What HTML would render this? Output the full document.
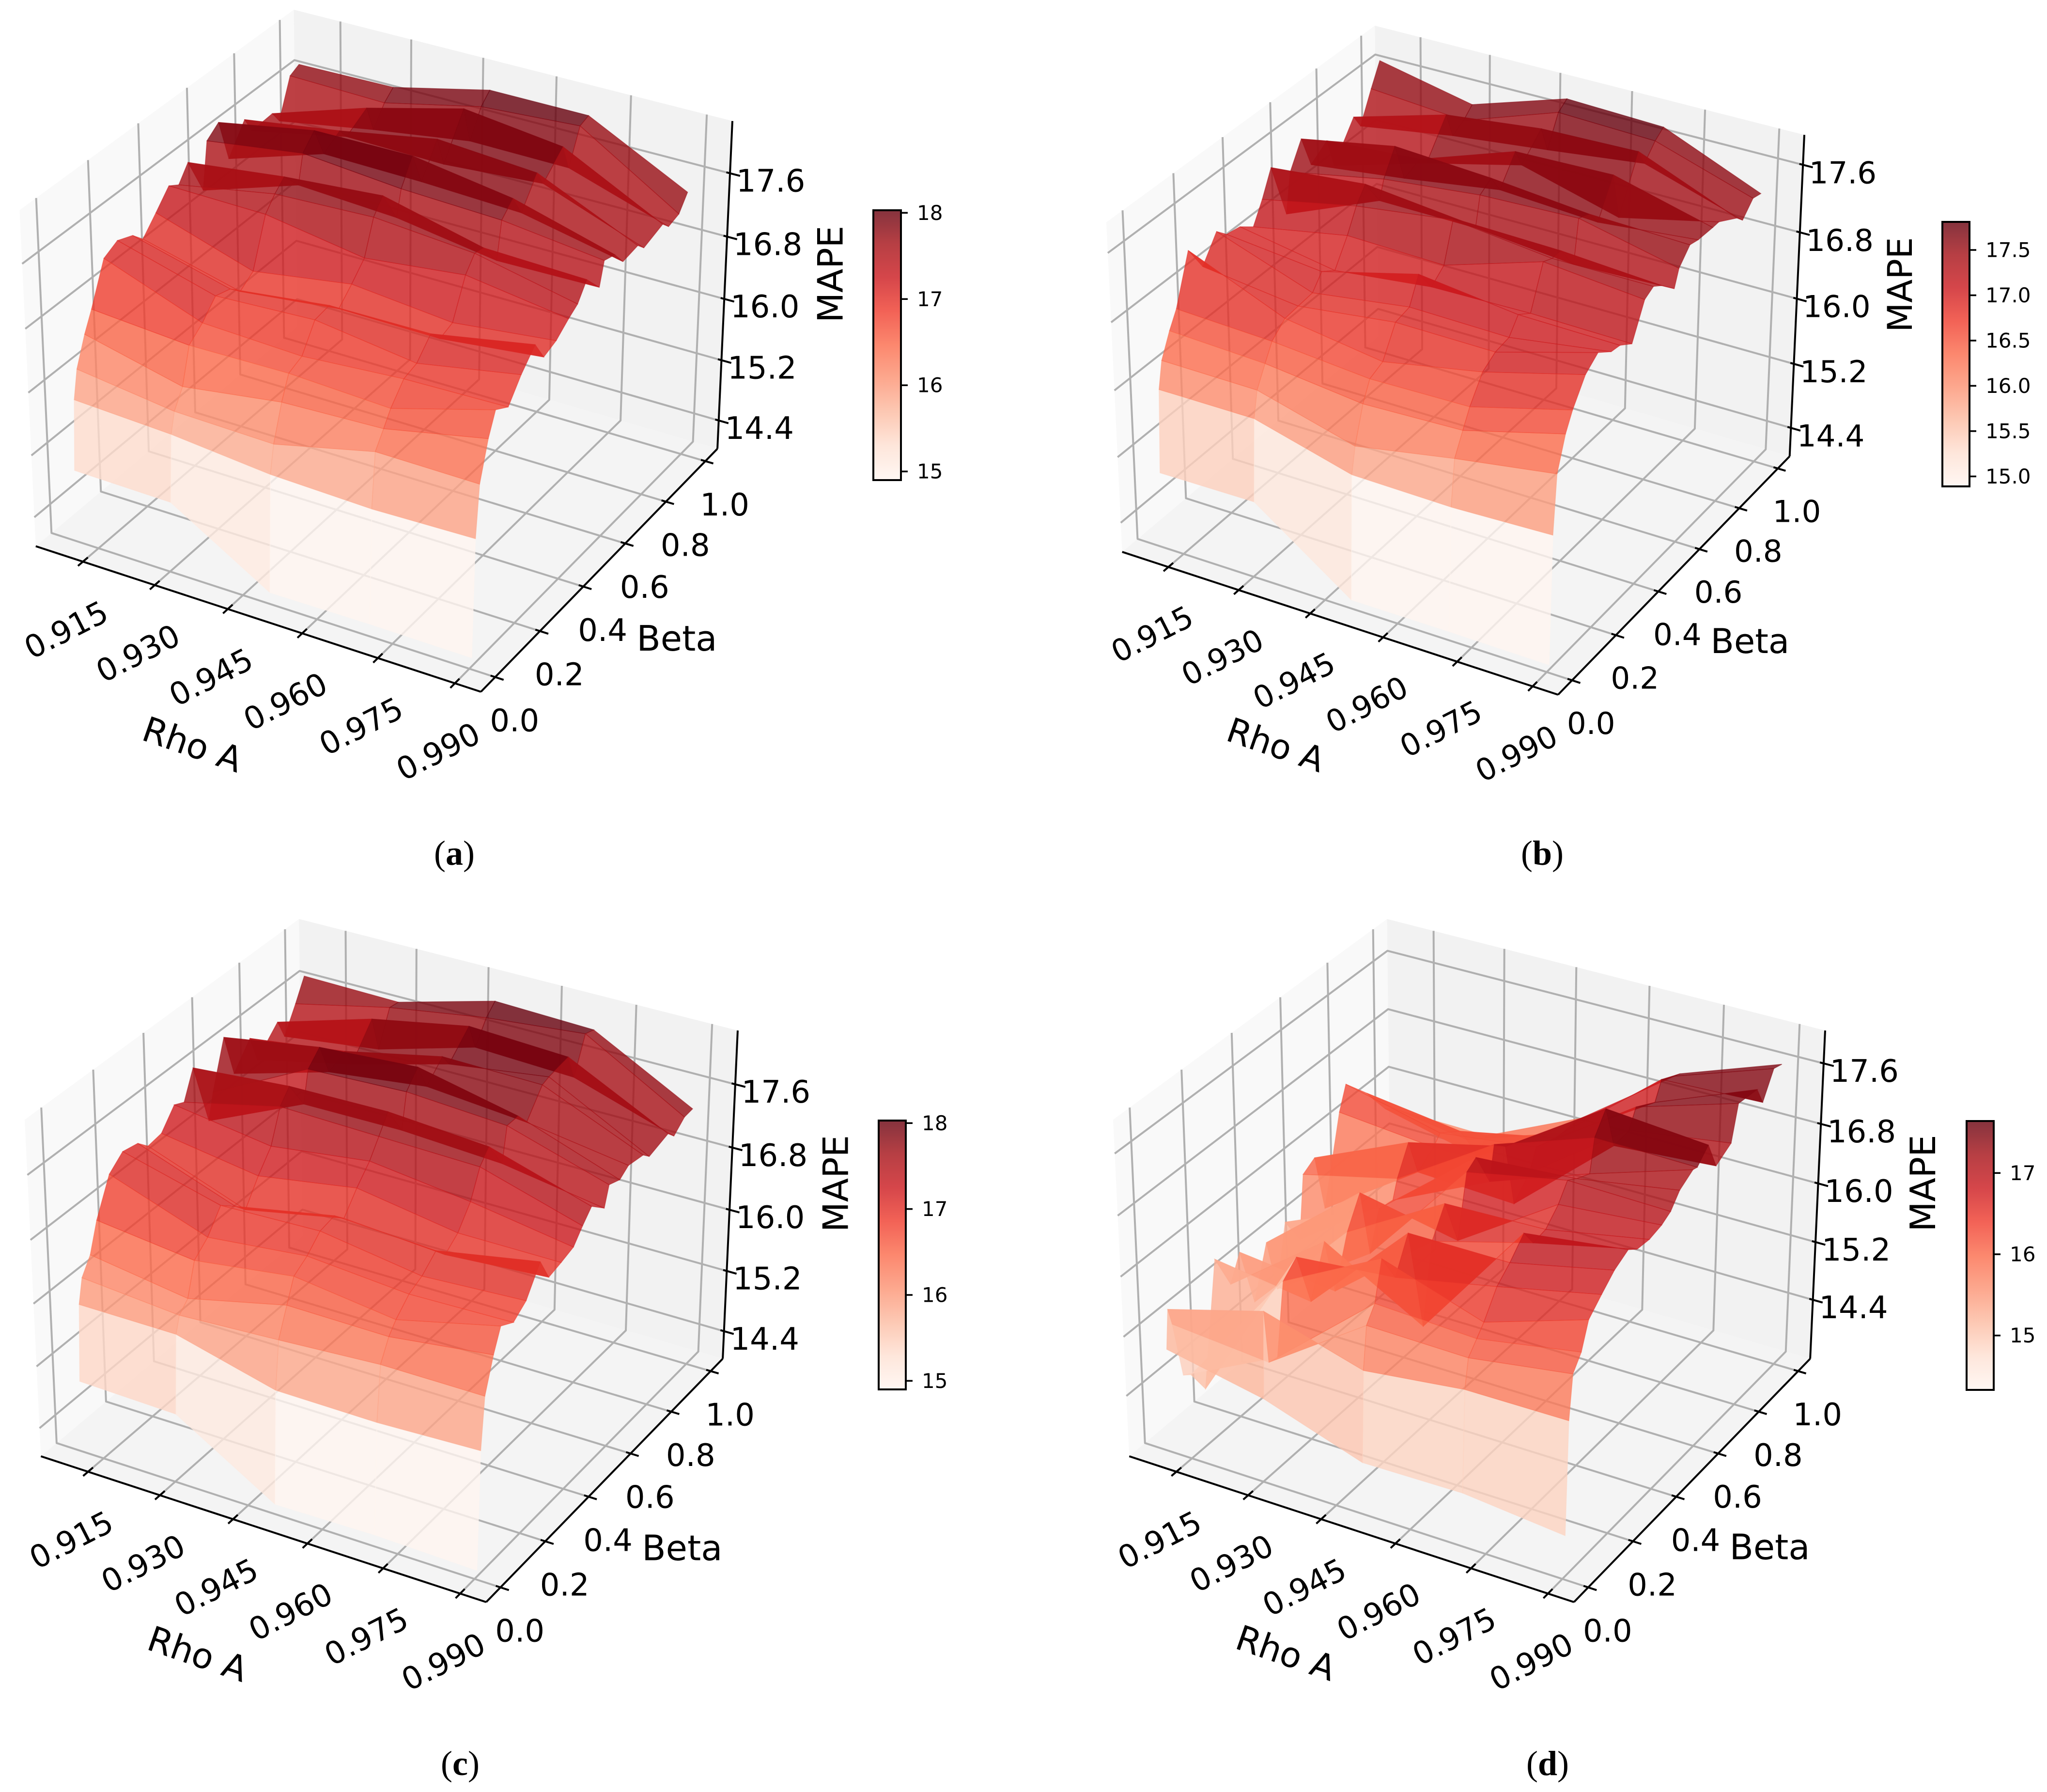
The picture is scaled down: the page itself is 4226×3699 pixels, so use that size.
<!DOCTYPE html>
<html>
<head>
<meta charset="utf-8">
<title>MAPE surfaces over Rho A and Beta</title>
<style>
html,body{margin:0;padding:0;background:#fff;}
svg{display:block;}
text{font-family:"DejaVu Sans","Liberation Sans",sans-serif;fill:#000;}
.cap{font-family:"Liberation Serif",serif;font-size:72px;}
</style>
</head>
<body>
<svg id="figure" xmlns="http://www.w3.org/2000/svg" width="4226" height="3699" viewBox="0 0 4226 3699">
<defs>
<linearGradient id="redsAlpha" x1="0" y1="1" x2="0" y2="0">
<stop offset="0" stop-color="#fff5f0" stop-opacity="0.8"/>
<stop offset="0.125" stop-color="#fee0d2" stop-opacity="0.8"/>
<stop offset="0.25" stop-color="#fcbba1" stop-opacity="0.8"/>
<stop offset="0.375" stop-color="#fc9272" stop-opacity="0.8"/>
<stop offset="0.5" stop-color="#fb6a4a" stop-opacity="0.8"/>
<stop offset="0.625" stop-color="#ef3b2c" stop-opacity="0.8"/>
<stop offset="0.75" stop-color="#cb181d" stop-opacity="0.8"/>
<stop offset="0.875" stop-color="#a50f15" stop-opacity="0.8"/>
<stop offset="1" stop-color="#67000d" stop-opacity="0.8"/>
</linearGradient>
</defs>
<rect width="4226" height="3699" fill="#fff"/>
<text class="cap" x="938" y="1785" text-anchor="middle">(<tspan font-weight="bold">a</tspan>)</text>
<text class="cap" x="3184" y="1785" text-anchor="middle">(<tspan font-weight="bold">b</tspan>)</text>
<text class="cap" x="950" y="3664" text-anchor="middle">(<tspan font-weight="bold">c</tspan>)</text>
<text class="cap" x="3195" y="3664" text-anchor="middle">(<tspan font-weight="bold">d</tspan>)</text>
</svg>
<script>
// ---------- chart data ----------
const rhoValues = [0.91, 0.93, 0.95, 0.97, 0.99];
const betaValues = [0.01,0.02,0.035,0.07,0.10,0.155,0.21,0.27,0.31,0.365,0.42,0.46,0.50,0.56,0.58,0.63,0.67,0.74,0.77,0.86,0.89,0.94,0.98];
const rhoTicks = [0.915,0.930,0.945,0.960,0.975,0.990];
const rhoTickLabels = ["0.915","0.930","0.945","0.960","0.975","0.990"];
const betaTicks = [0,0.2,0.4,0.6,0.8,1.0];
const betaTickLabels = ["0.0","0.2","0.4","0.6","0.8","1.0"];
const mapeTicks = [14.4,15.2,16.0,16.8,17.6];
const mapeTickLabels = ["14.4","15.2","16.0","16.8","17.6"];
const cbTicksA = [15,16,17,18];
const cbLabelsA = ["15","16","17","18"];
const cbTicksB = [15,15.5,16,16.5,17,17.5];
const cbLabelsB = ["15.0","15.5","16.0","16.5","17.0","17.5"];
const cbTicksC = [15,16,17,18];
const cbLabelsC = ["15","16","17","18"];
const cbTicksD = [15,16,17];
const cbLabelsD = ["15","16","17"];
const mapeA = [
[14.91,14.89,14.13,14.14,14.13],
[15.79,15.73,15.61,15.57,15.60],
[16.14,15.98,15.95,16.24,16.23],
[16.49,16.20,16.38,16.43,16.69],
[16.73,16.64,16.66,16.60,16.96],
[17.23,16.78,16.73,16.82,16.85],
[17.32,16.98,17.04,16.87,17.10],
[17.24,16.92,17.07,17.08,17.31],
[17.10,16.79,16.93,16.92,17.06],
[17.30,16.91,17.10,16.98,17.12],
[17.51,17.49,17.29,17.43,17.25],
[17.43,17.65,17.70,17.60,17.33],
[17.62,17.77,17.87,17.57,17.53],
[17.13,17.53,17.46,17.27,17.29],
[17.71,17.88,17.77,17.72,17.57],
[17.83,18.05,18.06,17.87,17.52],
[17.28,17.67,17.65,17.60,17.34],
[17.62,17.80,18.02,17.93,17.37],
[17.41,17.66,17.64,17.73,17.27],
[17.43,17.82,18.13,17.98,17.35],
[17.27,17.48,17.66,17.65,17.25],
[17.74,17.71,17.98,18.06,17.29],
[17.80,17.82,18.10,18.10,17.47]];
const mapeB = [
[14.92,14.93,14.11,14.11,14.10],
[15.90,15.90,15.59,15.57,15.61],
[16.21,16.20,15.89,16.10,16.28],
[16.48,16.43,16.30,16.34,16.65],
[16.67,16.62,16.52,16.54,16.85],
[17.23,16.76,16.59,16.81,17.12],
[16.92,16.78,16.92,16.91,17.24],
[17.20,16.80,16.96,16.94,17.11],
[17.08,16.96,17.25,17.11,17.09],
[17.05,16.85,16.98,17.00,16.98],
[16.93,17.14,17.11,17.47,17.36],
[17.17,17.40,17.55,17.42,17.42],
[17.46,17.57,17.45,17.42,17.34],
[16.78,17.25,17.24,17.13,17.17],
[17.24,17.46,17.58,17.62,17.36],
[17.53,17.74,17.67,17.56,17.52],
[17.14,17.28,17.45,17.38,17.49],
[17.28,17.36,17.75,17.78,17.48],
[16.92,17.25,17.53,17.22,17.48],
[17.32,17.64,17.77,17.80,17.33],
[17.15,17.33,17.46,17.60,17.24],
[17.50,17.41,17.80,17.76,17.39],
[17.76,17.52,17.88,17.84,17.36]];
const mapeC = [
[14.91,14.88,14.12,14.14,14.11],
[15.87,15.87,15.55,15.54,15.59],
[16.17,16.07,16.14,16.22,16.22],
[16.37,16.19,16.48,16.47,16.63],
[16.73,16.59,16.76,16.60,16.90],
[17.17,16.74,16.87,16.77,16.80],
[17.32,17.00,17.04,16.85,16.92],
[17.28,16.84,17.08,17.01,17.24],
[17.15,16.70,16.95,16.86,16.95],
[17.18,16.99,17.19,16.99,16.99],
[17.41,17.23,17.39,17.24,17.04],
[17.35,17.63,17.60,17.57,17.20],
[17.69,17.79,17.81,17.72,17.34],
[16.88,17.43,17.44,17.37,17.17],
[17.20,17.82,17.87,17.79,17.41],
[17.78,17.98,18.06,17.79,17.35],
[17.23,17.58,17.73,17.62,17.43],
[17.52,17.68,17.94,17.92,17.39],
[17.18,17.45,17.78,17.95,17.30],
[17.46,17.82,18.05,17.99,17.37],
[17.21,17.37,17.72,17.67,17.27],
[17.52,17.79,17.98,18.10,17.39],
[17.79,17.77,18.10,18.06,17.40]];
const mapeD = [
[14.93,14.67,14.23,14.25,14.12],
[15.44,15.81,15.43,15.59,15.60],
[15.20,15.09,15.98,15.96,16.16],
[14.41,15.06,16.17,16.11,16.34],
[14.33,15.99,16.67,16.24,16.67],
[13.98,16.16,16.28,16.55,16.84],
[15.60,15.42,16.71,16.71,17.00],
[15.10,16.06,15.32,16.93,17.10],
[15.43,15.29,16.34,16.70,17.00],
[14.60,15.94,16.69,16.73,16.98],
[15.27,16.32,16.06,16.91,17.02],
[14.52,15.40,16.86,17.12,17.09],
[15.34,15.90,16.95,17.04,17.26],
[14.94,15.86,16.48,16.95,17.37],
[15.79,16.10,16.92,17.37,17.35],
[15.89,16.46,16.77,17.62,17.51],
[15.09,15.96,15.90,17.04,17.14],
[16.24,16.12,16.14,17.07,17.26],
[16.55,16.24,16.41,17.30,17.70],
[16.21,16.04,16.31,17.14,17.66],
[16.05,15.85,16.30,17.37,17.42],
[15.80,15.49,16.30,17.29,17.74],
[15.70,15.68,16.28,17.23,17.70]];

// ---------- layout / axis config ----------
const xLim = [0.905, 0.995];
const yLim = [-0.0625, 1.0625];
const panels = [
 {key:'a', mape:mapeA, Fx:40.4, Dx:1512, Ey:20, By:1428, zLim:[14.02,18.25], vMin:14.90, vMax:18.03,
  cbX0:1803, cbX1:1860, cbY0:434, cbY1:991, cbTicks:cbTicksA, cbLabels:cbLabelsA},
 {key:'b', mape:mapeB, Fx:2284, Dx:3725, Ey:53, By:1434, zLim:[14.04,17.95], vMin:14.89, vMax:17.81,
  cbX0:4010, cbX1:4066, cbY0:458, cbY1:1004, cbTicks:cbTicksB, cbLabels:cbLabelsB},
 {key:'c', mape:mapeC, Fx:51, Dx:1523, Ey:1897, By:3307, zLim:[14.03,18.27], vMin:14.90, vMax:18.03,
  cbX0:1814, cbX1:1870, cbY0:2313, cbY1:2868, cbTicks:cbTicksC, cbLabels:cbLabelsC},
 {key:'d', mape:mapeD, Fx:2298, Dx:3768, Ey:1897, By:3307, zLim:[13.57,18.03], vMin:14.33, vMax:17.64,
  cbX0:4060, cbX1:4116, cbY0:2314, cbY1:2869, cbTicks:cbTicksD, cbLabels:cbLabelsD}
];

const BOX_XY = 1.19049, BOX_Z = 0.89286, DIST = 10;
const NX = 0.4330127, NY = -0.75, NZ = 0.5;
const redsStops = [[255,245,240],[254,224,210],[252,187,161],[252,146,114],[251,106,74],[239,59,44],[203,24,29],[165,15,21],[103,0,13]];

function reds(t){
  t = Math.max(0, Math.min(1, t));
  const p = t * 8, i = Math.min(7, Math.floor(p)), f = p - i;
  const a = redsStops[i], b = redsStops[i + 1];
  return 'rgb(' + [0,1,2].map(k => Math.round(a[k] + (b[k] - a[k]) * f)).join(',') + ')';
}
function projUnit(tx, ty, tz){
  const X = (tx - 0.5) * BOX_XY, Y = (ty - 0.5) * BOX_XY, Z = (tz - 0.5) * BOX_Z;
  const d = DIST - (NX * X + NY * Y + NZ * Z);
  return {px:(0.8660254 * X + 0.5 * Y) / d, py:(-0.25 * X + 0.4330127 * Y + 0.8660254 * Z) / d, d:d};
}
const root = document.getElementById('figure');
function mk(tag, attrs, parent){
  const e = document.createElementNS('http://www.w3.org/2000/svg', tag);
  for (const k in attrs) e.setAttribute(k, attrs[k]);
  parent.appendChild(e);
  return e;
}

function drawPanel(cfg){
  const pF = projUnit(0,0,1), pD = projUnit(1,1,1), pE = projUnit(0,1,1), pB = projUnit(1,0,0);
  const a = (cfg.Dx - cfg.Fx) / (pD.px - pF.px);
  const c = (cfg.By - cfg.Ey) / (pE.py - pB.py);
  const ox = cfg.Fx - a * pF.px, oy = cfg.Ey + c * pE.py;
  const scale = a / 8844;
  const tx = v => (v - xLim[0]) / (xLim[1] - xLim[0]);
  const ty = v => (v - yLim[0]) / (yLim[1] - yLim[0]);
  const tz = v => (v - cfg.zLim[0]) / (cfg.zLim[1] - cfg.zLim[0]);
  const scr = (ux, uy, uz) => { const p = projUnit(ux, uy, uz); return [ox + a * p.px, oy - c * p.py, p.d]; };
  const pts = list => list.map(q => { const s = scr(q[0], q[1], q[2]); return s[0].toFixed(1) + ',' + s[1].toFixed(1); }).join(' ');
  const line = (g, u, v, col, w) => { const s = scr(u[0],u[1],u[2]), e = scr(v[0],v[1],v[2]);
    return mk('line', {x1:s[0].toFixed(1), y1:s[1].toFixed(1), x2:e[0].toFixed(1), y2:e[1].toFixed(1), stroke:col, 'stroke-width':w}, g); };
  const poly3 = (g, list, col, w) => mk('polyline', {points:pts(list), fill:'none', stroke:col, 'stroke-width':w, 'stroke-linejoin':'round'}, g);

  const g = mk('g', {}, root);
  
  

  // panes
  const paneL = mk('polygon', {points:pts([[0,0,0],[0,0,1],[0,1,1],[0,1,0]]), fill:'#f9f9f9'}, g);
  
  
  const paneR = mk('polygon', {points:pts([[0,1,0],[0,1,1],[1,1,1],[1,1,0]]), fill:'#f2f2f2'}, g);
  
  
  const paneF = mk('polygon', {points:pts([[0,0,0],[1,0,0],[1,1,0],[0,1,0]]), fill:'#f4f4f4'}, g);
  
  

  // gridlines
  const GRID = '#b0b0b0', GW = 4;
  rhoTicks.forEach(v => {
    const gl = poly3(g, [[tx(v),0,0],[tx(v),1,0],[tx(v),1,1]], GRID, GW);
    
    
  });
  betaTicks.forEach(v => {
    const gl = poly3(g, [[1,ty(v),0],[0,ty(v),0],[0,ty(v),1]], GRID, GW);
    
    
  });
  mapeTicks.forEach(v => {
    const gl = poly3(g, [[0,0,tz(v)],[0,1,tz(v)],[1,1,tz(v)]], GRID, GW);
    
    
  });

  // axis lines
  const ax1 = line(g, [0,0,0], [1,0,0], '#000', 4);
  
  
  const ax2 = line(g, [1,0,0], [1,1,0], '#000', 4);
  
  
  const ax3 = line(g, [1,1,0], [1,1,1], '#000', 4);
  
  

  const fs = 64 * scale;
  const label = (txt, x, y, size, rot) => {
    const attrs = {x:x.toFixed(1), y:y.toFixed(1), 'font-size':size.toFixed(1), 'text-anchor':'middle', 'dominant-baseline':'central'};
    if (rot) attrs.transform = 'rotate(' + rot + ' ' + x.toFixed(1) + ' ' + y.toFixed(1) + ')';
    const t = mk('text', attrs, g);
    t.textContent = txt;
    return t;
  };

  // ticks and tick labels
  rhoTicks.forEach((v, i) => {
    const tk = line(g, [tx(v),0.0175,0], [tx(v),-0.0175,0], '#000', 4);
    
    
    const s = scr(tx(v),0,0);
    const t = label(rhoTickLabels[i], s[0] - 34 * scale, s[1] + 142 * scale, fs, -27);
    
    
  });
  betaTicks.forEach((v, i) => {
    const tk = line(g, [0.99,ty(v),0], [1.018,ty(v),0], '#000', 4);
    
    
    const s = scr(1,ty(v),0);
    const t = label(betaTickLabels[i], s[0] + 40 * scale, s[1] + 91 * scale, fs, 0);
    
    
  });
  mapeTicks.forEach((v, i) => {
    const tk = line(g, [0.992,1,tz(v)], [1.022,1,tz(v)], '#000', 4);
    
    
    const s = scr(1,1,tz(v));
    const t = label(mapeTickLabels[i], s[0] + 84 * scale, s[1] + 17 * scale, fs, 0);
    
    
  });

  // axis titles
  const fl = 72 * scale;
  const t1 = label('MAPE', cfg.Fx + 1674 * scale, cfg.Ey + 546 * scale, fl, -90);
  
  
  const t2 = label('Beta', cfg.Fx + 1357 * scale, cfg.Ey + 1298 * scale, fl, 0);
  
  
  const t3 = label('Rho A', cfg.Fx + 357 * scale, cfg.Ey + 1517 * scale, fl, 19);
  
  

  // surface facets, painter-sorted back to front
  const faces = [];
  for (let r = 0; r < betaValues.length - 1; r++) {
    for (let k = 0; k < rhoValues.length - 1; k++) {
      const corners = [[r,k],[r,k+1],[r+1,k+1],[r+1,k]].map(q => [tx(rhoValues[q[1]]), ty(betaValues[q[0]]), tz(cfg.mape[q[0]][q[1]])]);
      const mean = (cfg.mape[r][k] + cfg.mape[r][k+1] + cfg.mape[r+1][k+1] + cfg.mape[r+1][k]) / 4;
      const depth = corners.reduce((acc, q) => acc + projUnit(q[0], q[1], q[2]).d, 0) / 4;
      faces.push({corners, mean, depth});
    }
  }
  faces.sort((p, q) => q.depth - p.depth);
  const sg = mk('g', {}, g);
  
  
  faces.forEach(f => {
    const col = reds((f.mean - cfg.vMin) / (cfg.vMax - cfg.vMin));
    const poly = mk('polygon', {points:pts(f.corners), fill:col, 'fill-opacity':0.8, stroke:col, 'stroke-opacity':0.5, 'stroke-width':1.5}, sg);
    
    
  });

  // colorbar
  const cby = v => cfg.cbY1 - (v - cfg.vMin) / (cfg.vMax - cfg.vMin) * (cfg.cbY1 - cfg.cbY0);
  const cb = mk('rect', {x:cfg.cbX0, y:cfg.cbY0, width:cfg.cbX1 - cfg.cbX0, height:cfg.cbY1 - cfg.cbY0, fill:'url(#redsAlpha)', stroke:'#000', 'stroke-width':4}, g);
  
  
  cfg.cbTicks.forEach((v, i) => {
    const y = cby(v);
    const tk = mk('line', {x1:cfg.cbX1, y1:y.toFixed(1), x2:cfg.cbX1 + 14, y2:y.toFixed(1), stroke:'#000', 'stroke-width':3.5}, g);
    
    
    const t = mk('text', {x:cfg.cbX1 + 33, y:y.toFixed(1), 'font-size':42, 'dominant-baseline':'central'}, g);
    t.textContent = cfg.cbLabels[i];
    
    
  });
}
panels.forEach(drawPanel);
</script>
</body>
</html>
